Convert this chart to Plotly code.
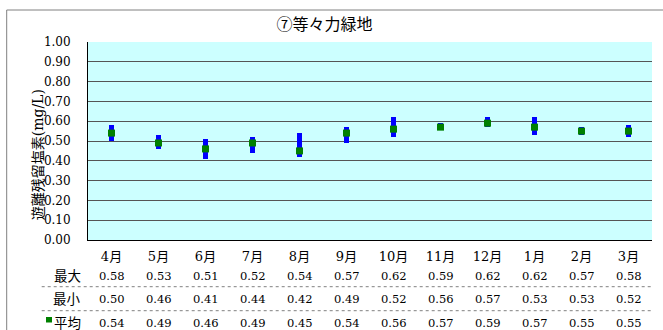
import plotly.graph_objects as go

# Monthly free residual chlorine at 等々力緑地 (mg/L)
months = ["4月", "5月", "6月", "7月", "8月", "9月", "10月", "11月", "12月", "1月", "2月", "3月"]
max_vals = [0.58, 0.53, 0.51, 0.52, 0.54, 0.57, 0.62, 0.59, 0.62, 0.62, 0.57, 0.58]
min_vals = [0.50, 0.46, 0.41, 0.44, 0.42, 0.49, 0.52, 0.56, 0.57, 0.53, 0.53, 0.52]
avg_vals = [0.54, 0.49, 0.46, 0.49, 0.45, 0.54, 0.56, 0.57, 0.59, 0.57, 0.55, 0.55]
row_labels = ["最大", "最小", "平均"]
y_ticks = [i / 10 for i in range(11)]

W, H = 663, 330
L, R, T, B = 88, 11, 42, 90
PW, PH = W - L - R, H - T - B

FONT = "DejaVu Serif, Noto Sans CJK JP, sans-serif"


def px_x(px):
    """pixel column -> paper x"""
    return (px - L) / PW


def px_y(py):
    """pixel row -> paper y"""
    return (H - B - py) / PH


fig = go.Figure()

# min–max range bars
fig.add_trace(go.Bar(
    x=months,
    y=[hi - lo for hi, lo in zip(max_vals, min_vals)],
    base=min_vals,
    width=0.09,
    marker=dict(color="#0000FF", line=dict(width=0)),
    showlegend=False,
    hoverinfo="skip",
))

# monthly average
fig.add_trace(go.Scatter(
    x=months,
    y=avg_vals,
    mode="markers",
    marker=dict(symbol="square", size=7, color="#008000", line=dict(width=0)),
    showlegend=False,
))

annotations = []

# data table under the chart
row_y = [276, 299.3, 322.7]
for label, vals, ry in zip(row_labels, [max_vals, min_vals, avg_vals], row_y):
    annotations.append(dict(
        x=px_x(83), y=px_y(ry), xref="paper", yref="paper",
        text=label, showarrow=False, xanchor="right", yanchor="middle",
        font=dict(family=FONT, size=13.5, color="#000000"),
    ))
    for m, v in zip(months, vals):
        annotations.append(dict(
            x=m, y=px_y(ry), xref="x", yref="paper",
            text=f"{v:.2f}", showarrow=False, xanchor="center", yanchor="middle",
            font=dict(family=FONT, size=11.5, color="#000000"),
        ))

# y-axis title
annotations.append(dict(
    x=px_x(38.3), y=px_y(155), xref="paper", yref="paper",
    text="遊離残留塩素(mg/L)", textangle=-90, showarrow=False,
    xanchor="center", yanchor="middle",
    font=dict(family=FONT, size=14, color="#000000"),
))

shapes = []
# dotted row separators
for sy in [286.7, 310.7]:
    shapes.append(dict(
        type="line", xref="paper", yref="paper",
        x0=px_x(41.7), x1=1.0, y0=px_y(sy), y1=px_y(sy),
        line=dict(color="#808080", width=1, dash="dot"),
    ))
# legend key for the average row
shapes.append(dict(
    type="rect", xref="paper", yref="paper",
    x0=px_x(46), x1=px_x(52), y0=px_y(317), y1=px_y(322.5),
    fillcolor="#008000", line=dict(width=0),
))
# outer chart frame (left and top edges)
shapes.append(dict(
    type="line", xref="paper", yref="paper",
    x0=px_x(6.7), x1=px_x(6.7), y0=px_y(10), y1=px_y(H + 5),
    line=dict(color="#808080", width=1),
))
shapes.append(dict(
    type="line", xref="paper", yref="paper",
    x0=px_x(6.7), x1=px_x(W + 5), y0=px_y(10), y1=px_y(10),
    line=dict(color="#808080", width=1),
))

fig.update_layout(
    width=W, height=H,
    margin=dict(l=L, r=R, t=T, b=B, autoexpand=False),
    paper_bgcolor="#FFFFFF",
    plot_bgcolor="#CCFFFF",
    title=dict(
        text="⑦等々力緑地", xref="container", yref="container",
        x=324.5 / W, y=1 - 24.5 / H, xanchor="center", yanchor="middle",
        font=dict(family=FONT, size=16, color="#000000"),
    ),
    xaxis=dict(
        type="category", categoryorder="array", categoryarray=months,
        range=[-0.5, len(months) - 0.5],
        showgrid=False, zeroline=False,
        showline=True, linecolor="#000000", linewidth=1,
        ticks="", ticklabelstandoff=4,
        tickfont=dict(family=FONT, size=13, color="#000000"),
        fixedrange=True,
    ),
    yaxis=dict(
        range=[0, 1.0], tickvals=y_ticks,
        ticktext=[f"{v:.2f}" for v in y_ticks],
        showgrid=True, gridcolor="#555555", gridwidth=1,
        zeroline=False,
        showline=True, linecolor="#000000", linewidth=1,
        ticks="", ticklabelstandoff=14,
        tickfont=dict(family=FONT, size=12, color="#000000"),
        fixedrange=True,
    ),
    annotations=annotations,
    shapes=shapes,
    bargap=0,
)

fig.write_html("out.html")
